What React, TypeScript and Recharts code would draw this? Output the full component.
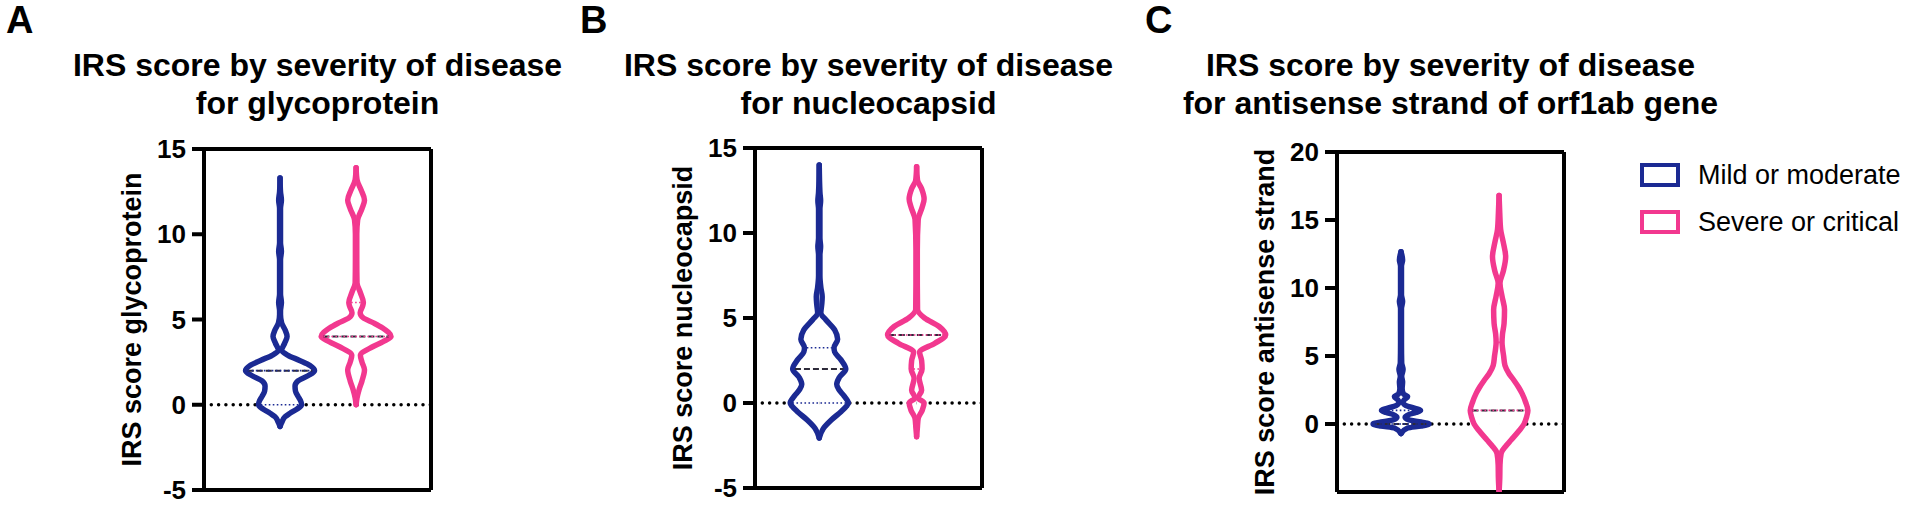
import React from "react";
import { ReferenceLine, Scatter, ScatterChart, XAxis, YAxis } from "recharts";

const BLUE = "#1b2a93";
const PINK = "#f2388f";
const MEDIAN = "#2d2a3a";
const FONT = "'Liberation Sans', Arial, Helvetica, sans-serif";

// each row: [IRS score, half width of the violin in % of the panel width]
type Row = [number, number];

const groups = ["Mild or moderate", "Severe or critical"];
const groupColors = [BLUE, PINK];

const glycoMild: Row[] = [
  [-1.27, 0], [-1.0, 0.9], [-0.7, 2.2], [-0.5, 4.4], [-0.25, 7.5], [0, 9.5], [0.25, 9.0],
  [0.5, 7.9], [0.8, 6.8], [1.1, 6.6], [1.4, 7.9], [1.7, 12.3], [2.0, 15.2], [2.3, 13.2],
  [2.6, 8.6], [2.9, 3.5], [3.2, 0.7], [3.6, 2.0], [4.0, 3.1], [4.4, 2.2], [4.8, 0.7],
  [5.3, 0.2], [5.5, 0.2], [6.0, 0.6], [6.5, 0.2], [8.5, 0.2], [9.0, 0.6], [9.5, 0.2],
  [11.5, 0.2], [12.0, 0.6], [12.5, 0.2], [13.3, 0],
];
const glycoSevere: Row[] = [
  [0, 0], [0.4, 0.4], [0.88, 1.3], [1.4, 2.6], [2.05, 3.7], [2.5, 2.6], [2.9, 1.9],
  [3.4, 7.3], [3.7, 11.9], [4.0, 15.4], [4.5, 11.7], [4.8, 7.7], [5.1, 3.1], [5.4, 1.8],
  [5.8, 2.9], [6.0, 3.2], [6.6, 1.8], [7.15, 0.4], [8.5, 0.3], [10.0, 0.3], [10.85, 0.7],
  [11.5, 2.6], [12.0, 3.7], [12.6, 2.2], [13.2, 0.4], [13.9, 0],
];
const nucleoMild: Row[] = [
  [-2.06, 0], [-1.5, 1.8], [-1.0, 5.3], [-0.5, 9.7], [-0.2, 11.9], [0, 12.8], [0.4, 11.0],
  [0.8, 8.6], [1.1, 7.7], [1.5, 8.8], [2.0, 11.7], [2.55, 9.5], [3.0, 6.8], [3.25, 6.5],
  [3.75, 8.1], [4.3, 6.8], [4.9, 2.9], [5.3, 0.7], [5.8, 1.1], [6.25, 1.3], [6.8, 0.7],
  [7.5, 0.3], [8.7, 0.3], [9.2, 0.6], [9.7, 0.3], [11.4, 0.3], [11.9, 0.6], [12.4, 0.3],
  [14.0, 0],
];
const nucleoSevere: Row[] = [
  [-1.98, 0], [-1.5, 0.3], [-0.9, 0.7], [-0.45, 2.4], [0, 3.3], [0.3, 0.7], [0.75, 2.2],
  [1.45, 1.1], [2.0, 2.4], [2.5, 2.2], [3.0, 1.3], [3.5, 7.9], [4.0, 12.8], [4.5, 9.9],
  [5.0, 3.5], [5.5, 0.4], [7.0, 0.3], [9.0, 0.3], [10.8, 0.7], [11.5, 2.4], [12.0, 3.3],
  [12.6, 2.2], [13.1, 0.4], [13.9, 0],
];
const antisenseMild: Row[] = [
  [-0.7, 0], [-0.3, 2.9], [-0.15, 8.8], [0, 12.3], [0.15, 8.8], [0.3, 3.5], [0.5, 1.8],
  [0.7, 3.5], [0.85, 6.6], [1.0, 8.6], [1.15, 6.2], [1.35, 2.2], [1.6, 0.9], [1.8, 1.5],
  [2.0, 2.9], [2.2, 1.1], [2.6, 0.5], [3.1, 0.7], [3.5, 0.3], [4.0, 0.9], [4.5, 0.3],
  [6.0, 0.2], [8.5, 0.2], [9.0, 0.7], [9.5, 0.2], [11.6, 0.2], [12.06, 0.7], [12.67, 0],
];
const antisenseSevere: Row[] = [
  [-5.0, 0], [-4.0, 0.3], [-3.0, 0.4], [-2.16, 0.9], [-1.6, 3.1], [-1.18, 5.3], [-0.5, 8.8],
  [0, 11.0], [0.5, 12.1], [1.0, 12.7], [1.6, 11.7], [2.25, 10.1], [2.7, 8.6], [3.2, 6.6],
  [3.7, 4.4], [4.3, 2.6], [5.0, 2.0], [5.6, 1.5], [6.0, 1.3], [6.6, 1.5], [7.4, 2.2],
  [8.4, 2.4], [9.4, 1.3], [10.35, 0.4], [11.2, 1.8], [12.3, 2.9], [13.4, 1.8], [14.3, 0.7],
  [15.5, 0.3], [16.8, 0],
];

// [median, lower quartile, upper quartile]
const glycoMildStats = [2, 0, 2];
const glycoSevereStats = [4, 4, 6];
const nucleoMildStats = [2, 0, 3.25];
const nucleoSevereStats = [4, 2, 4];
const antisenseMildStats = [0, 0, 1];
const antisenseSevereStats = [1, 1, 6];

const ticks15 = [-5, 0, 5, 10, 15];
const ticks20 = [-5, 0, 5, 10, 15, 20];

type Panel = {
  letter: string;
  letterX: number;
  frameLeft: number;
  top: number;
  bottom: number;
  title: string[];
  yLabel: string;
  yTicks: number[];
  centers: number[];
  violins: Row[][];
  stats: number[][];
};

const panels: Panel[] = [
  {
    letter: "A", letterX: 6, frameLeft: 204, top: 149, bottom: 490,
    title: ["IRS score by severity of disease", "for glycoprotein"],
    yLabel: "IRS score glycoprotein", yTicks: ticks15, centers: [33.5, 67],
    violins: [glycoMild, glycoSevere], stats: [glycoMildStats, glycoSevereStats],
  },
  {
    letter: "B", letterX: 580, frameLeft: 755, top: 148, bottom: 488,
    title: ["IRS score by severity of disease", "for nucleocapsid"],
    yLabel: "IRS score nucleocapsid", yTicks: ticks15, centers: [28.3, 71.2],
    violins: [nucleoMild, nucleoSevere], stats: [nucleoMildStats, nucleoSevereStats],
  },
  {
    letter: "C", letterX: 1145, frameLeft: 1337, top: 152, bottom: 492,
    title: ["IRS score by severity of disease", "for antisense strand of orf1ab gene"],
    yLabel: "IRS score antisense strand", yTicks: ticks20, centers: [28.2, 71.4],
    violins: [antisenseMild, antisenseSevere], stats: [antisenseMildStats, antisenseSevereStats],
  },
];

const FRAME_W = 227;
const AXIS_W = 146;
const renderNothing = () => <g />;

function halfWidthAt(rows: Row[], v: number) {
  let best = rows[0];
  for (const r of rows) if (Math.abs(r[0] - v) < Math.abs(best[0] - v)) best = r;
  return best[1];
}

function ViolinPanel({ p }: { p: Panel }) {
  const left = p.frameLeft - AXIS_W - 5;
  const width = 5 + AXIS_W + FRAME_W + 12;
  const yDomain = [p.yTicks[0], p.yTicks[p.yTicks.length - 1]];

  const violinSides = p.violins.flatMap((rows, i) => {
    const c = p.centers[i];
    const col = groupColors[i];
    return [1, -1].map((s) => (
      <Scatter
        key={`v${i}${s}`}
        data={rows.map(([y, w]) => ({ x: c + s * w, y }))}
        fill={col}
        line={{ stroke: col, strokeWidth: 5.5, fill: "#fff", strokeLinejoin: "round", strokeLinecap: "round" }}
        lineType="joint"
        lineJointType="monotoneY"
        shape={renderNothing}
        isAnimationActive={false}
      />
    ));
  });

  const statLines = p.stats.flatMap((st, i) => {
    const c = p.centers[i];
    const col = groupColors[i];
    const rows = p.violins[i];
    return st.map((v, k) => {
      const w = Math.max(halfWidthAt(rows, v) - 1.0, 0.3);
      const isMedian = k === 0;
      return (
        <Scatter
          key={`s${i}${k}`}
          data={[{ x: c - w, y: v }, { x: c + w, y: v }]}
          line={{
            stroke: isMedian ? MEDIAN : col,
            strokeWidth: isMedian ? 2 : 1.6,
            strokeDasharray: isMedian ? "6 3" : "1.6 2.4",
          }}
          lineType="joint"
          shape={renderNothing}
          isAnimationActive={false}
        />
      );
    });
  });

  return (
    <div style={{ position: "absolute", left, top: 0 }}>
      <ScatterChart
        width={width}
        height={505}
        margin={{ top: p.top, right: 12, bottom: 505 - p.bottom - 1, left: 5 }}
      >
        <XAxis
          type="number"
          dataKey="x"
          domain={[0, 100]}
          height={1}
          tick={false}
          tickLine={false}
          axisLine={{ stroke: "#000", strokeWidth: 4 }}
        />
        <YAxis
          type="number"
          dataKey="y"
          domain={yDomain}
          ticks={p.yTicks}
          allowDataOverflow
          width={AXIS_W}
          tickSize={12}
          tickMargin={6}
          tick={{ fill: "#000", fontSize: 26, fontWeight: 700, fontFamily: FONT }}
          tickLine={{ stroke: "#000", strokeWidth: 4 }}
          axisLine={{ stroke: "#000", strokeWidth: 4 }}
          label={{
            value: p.yLabel,
            angle: -90,
            position: "center",
            fill: "#000",
            fontSize: 27,
            fontWeight: 700,
            fontFamily: FONT,
          }}
        />
        <Scatter
          data={[{ x: 0, y: 0 }, { x: 100, y: 0 }]}
          line={{ stroke: "#000", strokeWidth: 3.5, strokeDasharray: "0 7.3", strokeLinecap: "round" }}
          lineType="joint"
          shape={renderNothing}
          isAnimationActive={false}
        />
        {violinSides}
        {statLines}
        <ReferenceLine x={100} stroke="#000" strokeWidth={4} ifOverflow="visible" />
        <ReferenceLine y={yDomain[1]} stroke="#000" strokeWidth={4} ifOverflow="visible" />
      </ScatterChart>
    </div>
  );
}

export default function App() {
  return (
    <div
      style={{
        position: "absolute",
        left: 0,
        top: 0,
        width: 1905,
        height: 505,
        background: "#fff",
        fontFamily: FONT,
        color: "#000",
        overflow: "hidden",
      }}
    >
      {panels.map((p) => (
        <React.Fragment key={p.letter}>
          <div
            style={{
              position: "absolute",
              left: p.letterX,
              top: 0,
              fontSize: 38,
              fontWeight: 700,
              lineHeight: "40px",
            }}
          >
            {p.letter}
          </div>
          <div
            style={{
              position: "absolute",
              left: p.frameLeft + FRAME_W / 2 - 320,
              width: 640,
              top: 46,
              textAlign: "center",
              fontSize: 32,
              fontWeight: 700,
              lineHeight: "38px",
              whiteSpace: "nowrap",
            }}
          >
            {p.title.map((t) => (
              <div key={t}>{t}</div>
            ))}
          </div>
          <ViolinPanel p={p} />
        </React.Fragment>
      ))}
      {groups.map((g, i) => (
        <React.Fragment key={g}>
          <div
            style={{
              position: "absolute",
              left: 1640,
              top: 163 + i * 47,
              width: 40,
              height: 24,
              boxSizing: "border-box",
              border: `4px solid ${groupColors[i]}`,
            }}
          />
          <div
            style={{
              position: "absolute",
              left: 1698,
              top: 162 + i * 47,
              fontSize: 27,
              lineHeight: "27px",
              whiteSpace: "nowrap",
            }}
          >
            {g}
          </div>
        </React.Fragment>
      ))}
    </div>
  );
}
